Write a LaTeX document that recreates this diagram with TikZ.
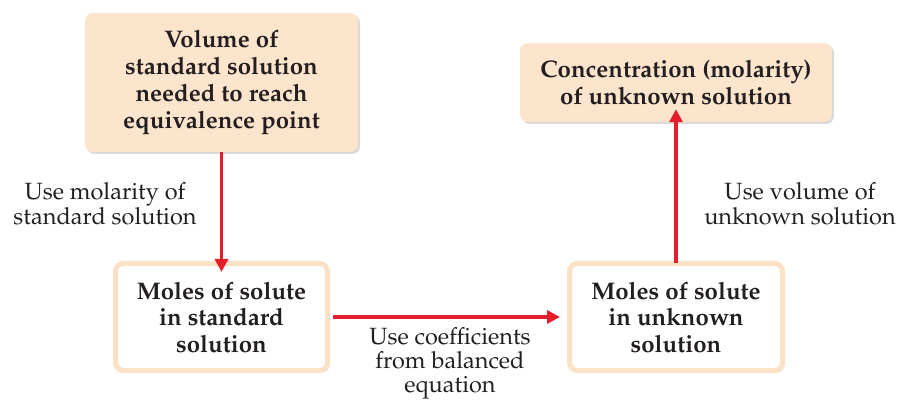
\documentclass[tikz,border=0pt]{standalone}
\usepackage[T1]{fontenc}
\usepackage{mathpazo}
\usetikzlibrary{arrows.meta,shadows}
\definecolor{peach}{HTML}{FDE4CC}
\definecolor{peachedge}{HTML}{FCE1C6}
\definecolor{arrowred}{HTML}{E61E2B}
\definecolor{ink}{HTML}{231F20}
\begin{document}
\begin{tikzpicture}[x=1pt,y=-1pt,
  boxshadow/.style={drop shadow={shadow xshift=2pt,shadow yshift=-2pt,opacity=0.25,fill=black!60}},
  filledbox/.style={fill=peach,draw=none,rounded corners=8pt,boxshadow,
    align=center,text=ink,font=\fontsize{24}{27}\selectfont\bfseries,inner sep=0pt},
  outlinebox/.style={fill=white,draw=peachedge,line width=5pt,rounded corners=8pt,boxshadow,
    align=center,text=ink,font=\fontsize{24}{26.5}\selectfont\bfseries,inner sep=0pt},
  lbl/.style={align=center,text=ink,font=\fontsize{23.5}{25}\selectfont,inner sep=0pt},
  flow/.style={draw=arrowred,line width=3.5pt,-{Triangle[width=13pt,length=13pt]}}]
\useasboundingbox (0,0) rectangle (905,403);
\node[filledbox,minimum width=273pt,minimum height=139pt] (vol) at (221.5,82.5)
  {Volume of\\standard solution\\needed to reach\\equivalence point};
\node[filledbox,minimum width=312pt,minimum height=79pt] (conc) at (676,82.5)
  {Concentration (molarity)\\of unknown solution};
\node[outlinebox,minimum width=212pt,minimum height=107pt] (mstd) at (221.5,317)
  {Moles of solute\\in standard\\solution};
\node[outlinebox,minimum width=213pt,minimum height=107pt] (munk) at (676,317)
  {Moles of solute\\in unknown\\solution};
\draw[flow] (vol.south) -- ([yshift=-11pt]mstd.north);
\draw[flow] ([xshift=2.5pt]mstd.east) -- ([xshift=-7pt]munk.west);
\draw[flow] ([yshift=-2.5pt]munk.north) -- ([yshift=13pt]conc.south);
\node[lbl] (l1) at (105,204) {Use molarity of\\standard solution};
\node[lbl] (l2) at (800,204) {Use volume of\\unknown solution};
\node[lbl,font=\fontsize{23.5}{24}\selectfont] (l3) at (450,363) {Use coefficients\\from balanced\\equation};
\end{tikzpicture}
\end{document}
